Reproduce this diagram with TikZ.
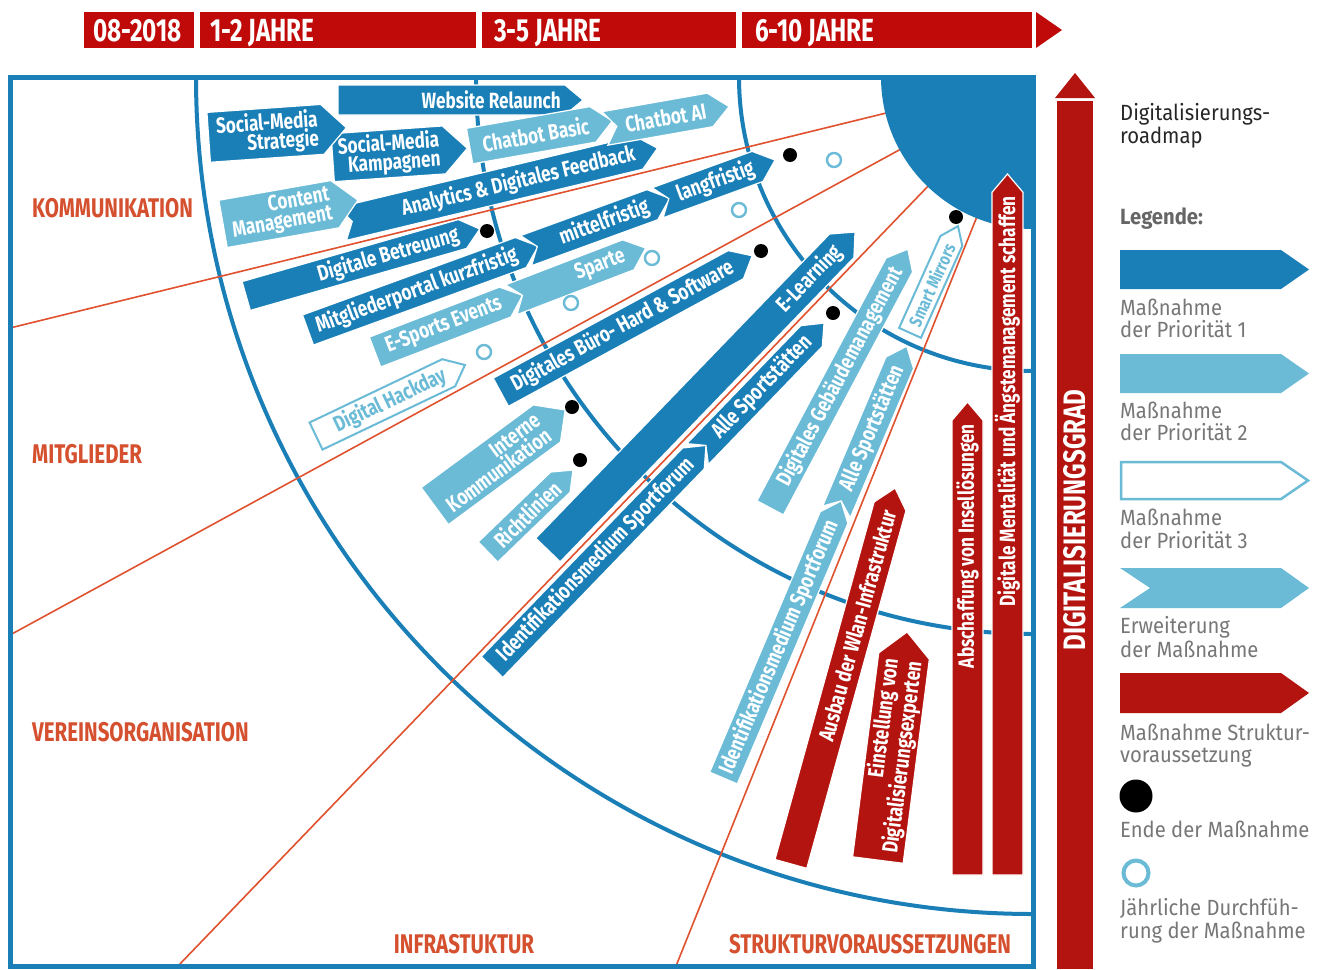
\documentclass[tikz,border=0pt]{standalone}
\usepackage{fontspec}
\setmainfont{Fira Sans}
\newfontfamily\arwf{Fira Sans}[FakeStretch=0.78]
\newfontfamily\capf{Fira Sans}[FakeStretch=0.76]
\newfontfamily\legf{Fira Sans}[FakeStretch=0.92]
\definecolor{bdark}{HTML}{1A7FB7}
\definecolor{blight}{HTML}{6BBBD7}
\definecolor{rarrow}{HTML}{B3140F}
\definecolor{rbar}{HTML}{C00A0A}
\definecolor{rsector}{HTML}{D5502E}
\definecolor{redline}{HTML}{E0522F}
\definecolor{lgray}{HTML}{777777}
\tikzset{
  pa/.style={fill=bdark, draw=white, line width=1.2pt},
  pb/.style={fill=blight, draw=white, line width=1.2pt},
  pc/.style={fill=white, draw=blight, line width=2pt},
  pr/.style={fill=rarrow, draw=white, line width=1.2pt},
  patxt/.style={text=white},
  pbtxt/.style={text=white},
  pctxt/.style={text=blight},
  prtxt/.style={text=white},
  arrowlabel/.style={font=\arwf\bfseries\fontsize{22}{19}\selectfont, align=right, inner sep=0pt, anchor=east},
  arcline/.style={draw=bdark, line width=4pt},
  sectorline/.style={draw=redline, line width=1.6pt},
  bartxt/.style={font=\capf\bfseries\fontsize{32}{32}\selectfont, text=white, inner sep=0pt, anchor=base west},
  secttxt/.style={font=\capf\bfseries\fontsize{27}{27}\selectfont, text=rsector, inner sep=0pt},
  legtxt/.style={font=\legf\fontsize{22}{22}\selectfont, text=lgray, inner sep=0pt, anchor=base west},
}
% #1 name, #2 x, #3 y, #4 angle, #5 length, #6 height, #7 notch, #8 style, #9 text
\newcommand\rarrow[9]{%
  \begin{scope}[shift={(#2,#3)}, rotate=#4]
    \pgfmathsetmacro\arwHL{#5/2}%
    \pgfmathsetmacro\arwHH{#6/2}%
    \pgfmathsetmacro\arwTP{0.3*#6+9}%
    \path[#8] (-\arwHL,-\arwHH) -- ({\arwHL-\arwTP},-\arwHH) -- (\arwHL,0) -- ({\arwHL-\arwTP},\arwHH) -- (-\arwHL,\arwHH) -- ({-\arwHL+#7},0) -- cycle;
    \node[arrowlabel, #8txt, transform shape] (#1) at ({\arwHL-\arwTP-4},0) {#9};
  \end{scope}}
\begin{document}
\begin{tikzpicture}[x=1pt,y=-1pt]
\useasboundingbox (0,0) rectangle (1321,969);
\fill[white] (0,0) rectangle (1321,969);

% ---- time bar
\fill[rbar] (84,12) rectangle (194,48);
\fill[rbar] (200,12) rectangle (476,48);
\fill[rbar] (482,12) rectangle (736,48);
\fill[rbar] (742,12) rectangle (1032,48);
\fill[rbar] (1036,12) -- (1062,30) -- (1036,48) -- cycle;
\node[bartxt] (t0) at (93,41) {08-2018};
\node[bartxt] (t1) at (210,41) {1-2 JAHRE};
\node[bartxt] (t2) at (494,41) {3-5 JAHRE};
\node[bartxt] (t3) at (755,41) {6-10 JAHRE};

% ---- arcs, sector lines, disk
\coordinate (C) at (1033,77);
\begin{scope}
  \clip (10,77) rectangle (1033,966);
  \draw[arcline] (C) circle[radius=837pt];
  \draw[arcline] (C) circle[radius=557pt];
  \draw[arcline] (C) circle[radius=294pt];
  \coordinate (e1) at (10,328);
  \coordinate (e2) at (10,635);
  \coordinate (e3) at (178,966);
  \coordinate (e4) at (676,966);
  \draw[sectorline] (C) -- (e1);
  \draw[sectorline] (C) -- (e2);
  \draw[sectorline] (C) -- (e3);
  \draw[sectorline] (C) -- (e4);
  \fill[bdark] (C) circle[radius=152pt];
\end{scope}
\draw[bdark, line width=5pt] (10,77) rectangle (1033,966);

% ---- sector labels
\node[secttxt, anchor=base west] (s1) at (32,217) {KOMMUNIKATION};
\node[secttxt, anchor=base west] (s2) at (32,463) {MITGLIEDER};
\node[secttxt, anchor=base west] (s3) at (32,741) {VEREINSORGANISATION};
\node[secttxt, anchor=base] (s4) at (464,953) {INFRASTUKTUR};
\node[secttxt, anchor=base] (s5) at (870,953) {STRUKTURVORAUSSETZUNGEN};

% ---- arrows
\rarrow{web}{460.5}{100}{0}{245}{30}{0}{pa}{Website Relaunch}
\rarrow{smk}{400}{153}{4}{135}{48}{0}{pa}{Social-Media\\Kampagnen}
\rarrow{sms}{277.5}{132.5}{4}{138}{50}{0}{pa}{Social-Media\\Strategie}
\rarrow{adf}{500}{186}{13.5}{324}{34}{10}{pa}{Analytics \& Digitales Feedback}
\rarrow{cm}{290.5}{212}{10}{137}{48}{0}{pb}{Content\\Management}
\rarrow{cbb}{541}{133.5}{10}{145}{36}{0}{pb}{Chatbot Basic}
\rarrow{cba}{667}{117.5}{10}{126}{34}{12}{pb}{Chatbot AI}
\rarrow{dbt}{363}{262.5}{16}{243}{30}{0}{pa}{Digitale Betreuung}
\rarrow{mpk}{423.1}{288.1}{20}{245}{32}{0}{pa}{Mitgliederportal kurzfristig}
\rarrow{mft}{597.9}{224.5}{20}{153}{32}{12}{pa}{mittelfristig}
\rarrow{lft}{716.3}{181.4}{20}{125}{32}{12}{pa}{langfristig}
\rarrow{esp}{448.8}{323.7}{21}{158}{32}{0}{pb}{E-Sports Events}
\rarrow{spa}{578.5}{273.9}{21}{144}{32}{12}{pb}{Sparte}
\rarrow{dhd}{390.5}{400.5}{25.5}{165}{30}{0}{pc}{Digital Hackday}
\rarrow{dbh}{626.5}{324}{28.5}{286}{32}{0}{pa}{Digitales Büro- Hard \& Software}
\rarrow{elr}{701.5}{391}{46}{442}{34}{0}{pa}{E-Learning}
\rarrow{ikm}{500}{458}{36.4}{162}{46}{0}{pb}{Interne\\Kommunikation}
\rarrow{rtl}{530.5}{511}{44}{118}{28}{0}{pb}{Richtlinien}
\rarrow{ids}{599}{556.2}{46}{308}{30}{0}{pa}{Identifikationsmedium Sportforum}
\rarrow{asd}{760.8}{388.6}{46}{182}{30}{12}{pa}{Alle Sportstätten}
\rarrow{dgm}{839}{378.5}{62}{293}{30}{0}{pb}{Digitales Gebäudemanagement}
\rarrow{smm}{934}{279.5}{65.8}{117}{24}{0}{pc}{\fontsize{18}{18}\selectfont Smart Mirrors}
\rarrow{ids2}{782.3}{639.5}{67}{301}{30}{0}{pb}{Identifikationsmedium Sportforum}
\rarrow{asd2}{871.6}{429.1}{67}{180}{30}{12}{pb}{Alle Sportstätten}
\rarrow{wla}{843}{676}{74.5}{390}{33}{0}{pr}{Ausbau der Wlan-Infrastruktur}
\rarrow{eds}{892.5}{746}{82.7}{230}{51}{0}{pr}{Einstellung von\\Digitalisierungsexperten}
\rarrow{ains}{967.5}{638.5}{90}{473}{31}{0}{pr}{Abschaffung von Insellösungen}
\rarrow{dmas}{1007.5}{524.5}{90}{701}{31}{0}{pr}{Digitale Mentalität und Ängstemanagement schaffen}

% ---- end dots and yearly circles
\foreach \p in {(487,231),(790,155),(761,251),(833,313),(572,407),(580,460),(956,217)}
  \fill[black] \p circle[radius=7pt];
\foreach \p in {(834,160),(739,210),(652,258),(571,303),(484,352)}
  \draw[blight, line width=2.4pt] \p circle[radius=7pt];

% ---- Digitalisierungsgrad bar
\fill[rarrow] (1057,101) rectangle (1093,969);
\fill[rarrow] (1055,98) -- (1075,73) -- (1095,98) -- cycle;
\node[font=\arwf\bfseries\fontsize{31}{31}\selectfont, text=white, rotate=90, inner sep=0pt] (dg) at (1075,520) {DIGITALISIERUNGSGRAD};

% ---- legend
\node[legtxt, text=black!85] (lt1) at (1120,120) {Digitalisierungs-};
\node[legtxt, text=black!85] (lt2) at (1120,143) {roadmap};
\node[legtxt, font=\legf\bfseries\fontsize{22}{22}\selectfont, text=black!60] (lg) at (1120,224) {Legende:};
\path[pa, draw=none] (1120,250) -- (1281,250) -- (1309,269.5) -- (1281,289) -- (1120,289) -- cycle;
\node[legtxt] (l1a) at (1120,315) {Maßnahme};
\node[legtxt] (l1b) at (1120,337) {der Priorität 1};
\path[pb, draw=none] (1120,354) -- (1281,354) -- (1309,373.5) -- (1281,393) -- (1120,393) -- cycle;
\node[legtxt] (l2a) at (1120,418) {Maßnahme};
\node[legtxt] (l2b) at (1120,440) {der Priorität 2};
\path[pc, line width=2.5pt] (1121,462) -- (1281,462) -- (1308,480.5) -- (1281,499) -- (1121,499) -- cycle;
\node[legtxt] (l3a) at (1120,525) {Maßnahme};
\node[legtxt] (l3b) at (1120,548) {der Priorität 3};
\path[pb, draw=none] (1120,568) -- (1281,568) -- (1309,588) -- (1281,608) -- (1120,608) -- (1150,588) -- cycle;
\node[legtxt] (l4a) at (1120,633) {Erweiterung};
\node[legtxt] (l4b) at (1120,657) {der Maßnahme};
\path[pr, draw=none] (1120,673) -- (1281,673) -- (1309,693) -- (1281,713) -- (1120,713) -- cycle;
\node[legtxt] (l5a) at (1120,740) {Maßnahme Struktur-};
\node[legtxt] (l5b) at (1120,762) {voraussetzung};
\fill[black] (1136,796) circle[radius=16.5pt];
\node[legtxt] (l6) at (1120,837) {Ende der Maßnahme};
\draw[blight, line width=4pt] (1136,873) circle[radius=12.5pt];
\node[legtxt] (l7a) at (1120,915) {Jährliche Durchfüh-};
\node[legtxt] (l7b) at (1120,938) {rung der Maßnahme};
\end{tikzpicture}
\end{document}
